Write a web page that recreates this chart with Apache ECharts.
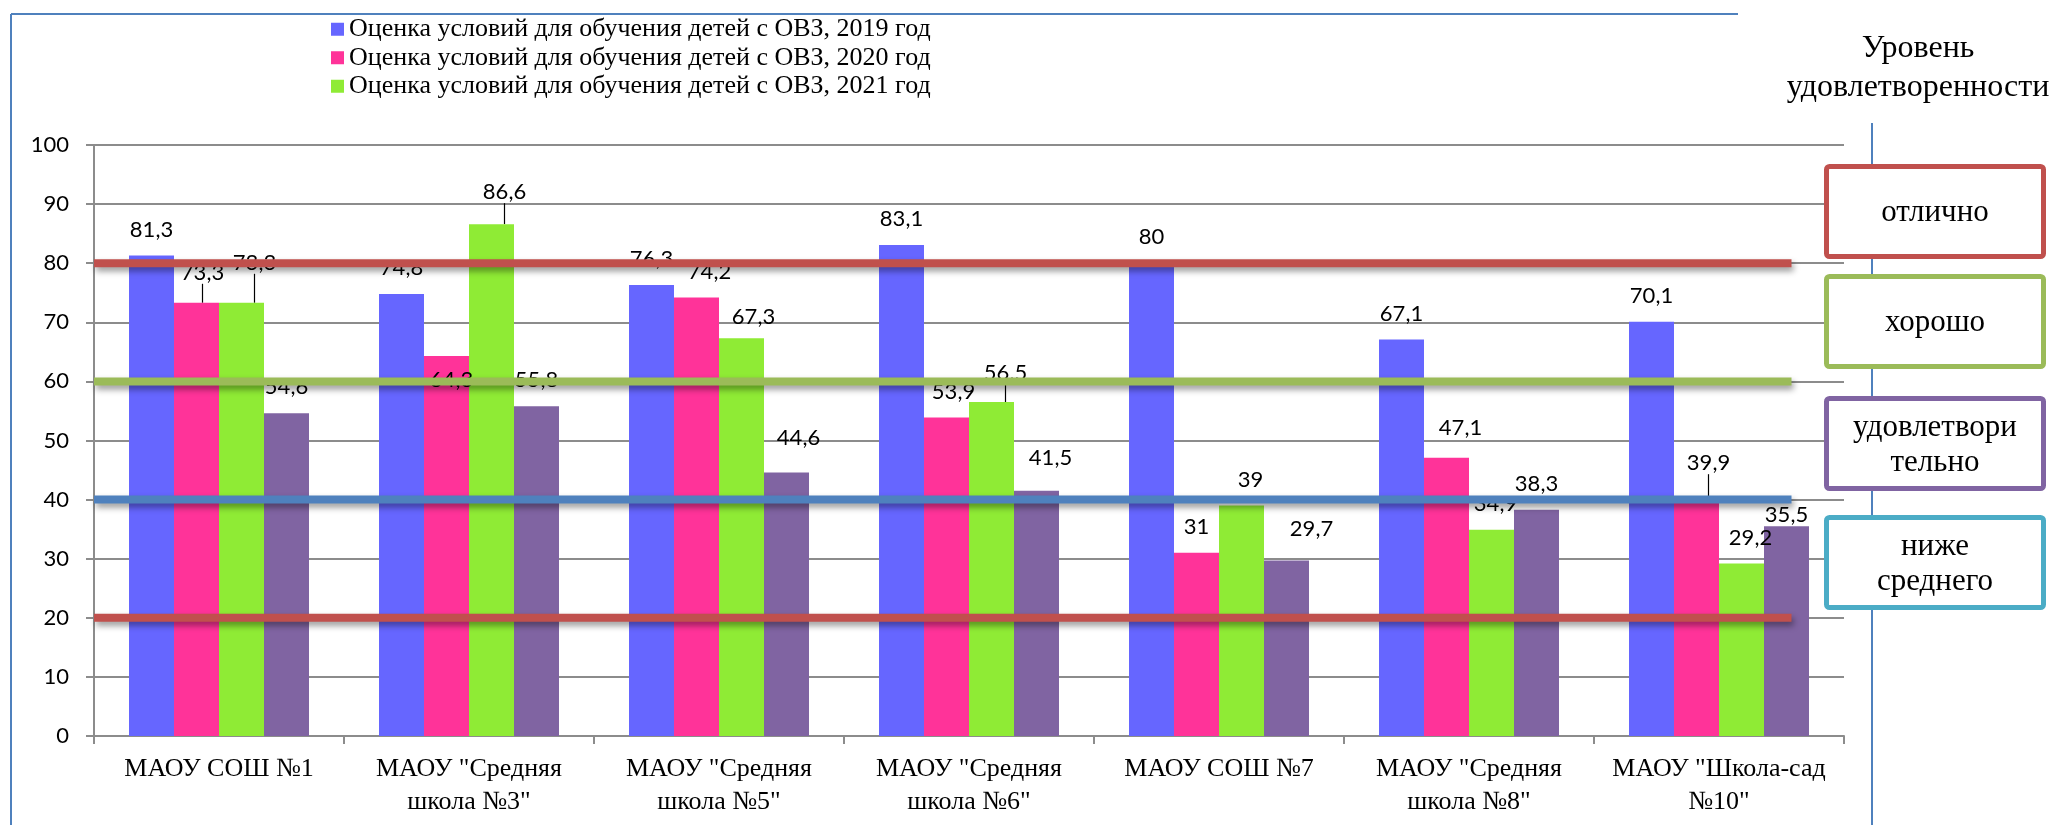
<!DOCTYPE html>
<html>
<head>
<meta charset="utf-8">
<script src="https://cdn.jsdelivr.net/npm/echarts@6/dist/echarts.min.js"></script>
<style>
  html, body { margin: 0; padding: 0; background: #fff; }
  #chart { width: 2053px; height: 825px; }
</style>
</head>
<body>
<div id="chart"></div>
<script>
// школы
var schools = [
  'МАОУ СОШ №1',
  'МАОУ "Средняя\nшкола №3"',
  'МАОУ "Средняя\nшкола №5"',
  'МАОУ "Средняя\nшкола №6"',
  'МАОУ СОШ №7',
  'МАОУ "Средняя\nшкола №8"',
  'МАОУ "Школа-сад\n№10"'
];
var names = [
  'Оценка условий для обучения детей с ОВЗ, 2019 год',
  'Оценка условий для обучения детей с ОВЗ, 2020 год',
  'Оценка условий для обучения детей с ОВЗ, 2021 год',
  'Ряд4'
];
var v2019 = [81.3, 74.8, 76.3, 83.1, 80, 67.1, 70.1];
var v2020 = [73.3, 64.3, 74.2, 53.9, 31, 47.1, 39.9];
var v2021 = [73.3, 86.6, 67.3, 56.5, 39, 34.9, 29.2];
var v4 = [54.6, 55.8, 44.6, 41.5, 29.7, 38.3, 35.5];
var yTicks = [0, 10, 20, 30, 40, 50, 60, 70, 80, 90, 100];
// уровни удовлетворенности
var levels = [80, 60, 40, 20];
var levelNames = ['отлично', 'хорошо', 'удовлетвори\nтельно', 'ниже\nсреднего'];

var colors = ['#6666FF', '#FF3399', '#8FEB35', '#8064A2'];
var levelColors = ['#C0504D', '#9BBB59', '#4F81BD', '#C0504D'];
var boxColors = ['#C0504D', '#9BBB59', '#8064A2', '#4BACC6'];

// сдвиги подписей как на исходной картинке (серия-категория: dx, dy)
var labelShift = {
  '1-0': [6, -4], '2-0': [13, -14],
  '1-1': [5, 50], '2-1': [13, -6],
  '1-2': [13, 0], '2-2': [12, 5], '3-2': [12, -9],
  '1-3': [7, 0], '2-3': [14, -3], '3-3': [14, -7],
  '2-4': [9, 0], '3-4': [25, -6],
  '1-5': [14, -4], '2-5': [4, 0],
  '1-6': [12, -11], '2-6': [9, 0], '3-6': [0, 15]
};
var leaders = ['1-0', '2-0', '2-1', '2-3', '1-6'];

var serif = 'Liberation Serif';
var sans = 'Lato';

var chart = echarts.init(document.getElementById('chart'));

var barSeries = [v2019, v2020, v2021, v4].map(function (vals, s) {
  return {
    name: names[s],
    type: 'bar',
    barGap: '0%',
    barCategoryGap: '28%',
    itemStyle: { color: colors[s] },
    data: vals.map(function (v, i) {
      if (leaders.indexOf(s + '-' + i) >= 0) {
        return { value: v, labelLine: { show: true, lineStyle: { color: '#000', width: 1.2 } } };
      }
      return v;
    }),
    label: {
      show: true,
      position: 'top',
      distance: 15,
      color: '#000',
      fontFamily: sans,
      fontSize: 22,
      formatter: function (p) { return String(p.value).replace('.', ','); }
    },
    labelLayout: function (p) {
      var d = labelShift[p.seriesIndex + '-' + p.dataIndex];
      return d ? { dx: d[0], dy: d[1] } : {};
    }
  };
});

var levelSeries = levels.map(function (lv, k) {
  return {
    name: 'level' + lv,
    type: 'line',
    xAxisIndex: 1,
    yAxisIndex: 0,
    silent: true,
    symbol: 'none',
    z: 5,
    lineStyle: {
      color: levelColors[k],
      width: 8,
      shadowColor: 'rgba(0,0,0,0.4)',
      shadowBlur: 6,
      shadowOffsetX: 2,
      shadowOffsetY: 4
    },
    data: [[0, lv], [6.79, lv]]
  };
});

var boxTops = [164, 274, 396, 515];
var graphics = [
  { type: 'line', shape: { x1: 11, y1: 14, x2: 1738, y2: 14 }, style: { stroke: '#4F81BD', lineWidth: 2 } },
  { type: 'line', shape: { x1: 11, y1: 14, x2: 11, y2: 825 }, style: { stroke: '#4F81BD', lineWidth: 2 } },
  { type: 'line', shape: { x1: 1872, y1: 123, x2: 1872, y2: 825 }, style: { stroke: '#4F81BD', lineWidth: 2 }, z: 10 }
];
levelNames.forEach(function (t, k) {
  graphics.push({
    type: 'rect', z: 11,
    shape: { x: 1826.5, y: boxTops[k] + 2.5, width: 217, height: 90, r: 3 },
    style: { fill: '#fff', stroke: boxColors[k], lineWidth: 5 }
  });
});

// подписи справа — через title, чтобы шрифт применялся
var titles = [{
  text: 'Уровень\nудовлетворенности',
  left: 1918, top: 29, padding: 0, textAlign: 'center',
  textStyle: { fontFamily: serif, fontSize: 32, fontWeight: 'normal', color: '#000', lineHeight: 39 }
}];
levelNames.forEach(function (t, k) {
  var lines = t.split('\n').length;
  titles.push({
    text: t,
    left: 1935, top: boxTops[k] + 49 - lines * 35 / 2, padding: 0, textAlign: 'center',
    z: 12,
    textStyle: { fontFamily: serif, fontSize: 31, fontWeight: 'normal', color: '#000', lineHeight: 35 }
  });
});

var option = {
  animation: false,
  title: titles,
  grid: { left: 94, top: 145, width: 1750, height: 591, containLabel: false },
  legend: {
    orient: 'vertical',
    left: 331,
    top: 15,
    padding: 0,
    itemGap: 0,
    itemWidth: 13,
    itemHeight: 13,
    icon: 'rect',
    data: names.slice(0, 3),
    textStyle: { fontFamily: serif, fontSize: 26, color: '#000', lineHeight: 28.5 }
  },
  xAxis: [{
    type: 'category',
    data: schools,
    axisLine: { lineStyle: { color: '#8c8c8c', width: 2 } },
    axisTick: { show: true, length: 8, lineStyle: { color: '#8c8c8c', width: 2 } },
    axisLabel: {
      interval: 0, color: '#000', fontFamily: serif, fontSize: 26,
      lineHeight: 33, margin: 17
    }
  }, {
    type: 'value', min: 0, max: 7, show: false
  }],
  yAxis: {
    type: 'value',
    min: 0,
    max: 100,
    interval: 10,
    axisLine: { show: true, lineStyle: { color: '#8c8c8c', width: 2 } },
    axisTick: { show: true, length: 8, lineStyle: { color: '#8c8c8c', width: 2 } },
    splitLine: { lineStyle: { color: '#8c8c8c', width: 2 } },
    axisLabel: {
      color: '#000', fontFamily: sans, fontSize: 22, margin: 25,
      formatter: function (v) { return yTicks.indexOf(v) >= 0 ? String(v) : ''; }
    }
  },
  series: barSeries.concat(levelSeries),
  graphic: graphics
};
chart.setOption(option);
</script>
</body>
</html>
